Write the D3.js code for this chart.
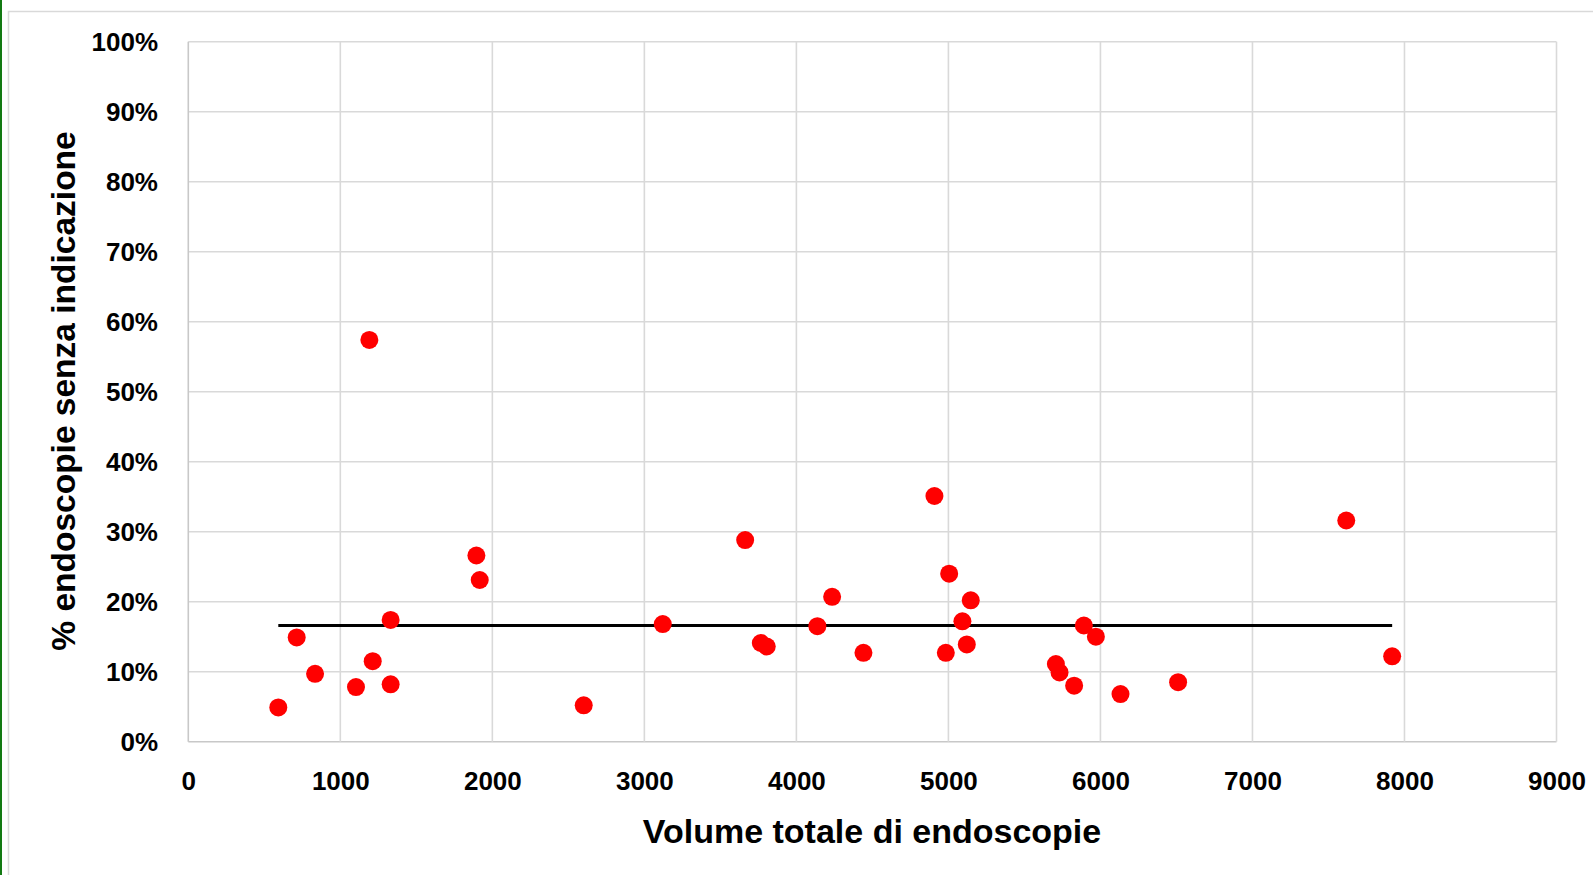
<!DOCTYPE html>
<html>
<head>
<meta charset="utf-8">
<script src="https://cdn.jsdelivr.net/npm/d3@7"></script>
<style>
  body { margin: 0; background: #fff; }
  svg { display: block; font-family: "Liberation Sans", Arial, sans-serif; }
</style>
</head>
<body>
<svg id="chart" width="1593" height="875"></svg>
<script>
// volume totale di endoscopie
var volumes = [592, 713, 834, 1103, 1213, 1331, 1331, 1191, 1895, 1917,
    2601, 3121, 3663, 3766, 3805, 4138, 4235, 4441, 4908, 5005,
    4983, 5147, 5092, 5121, 5707, 5731, 5827, 5891, 5970, 6132,
    6511, 7617, 7919];

// % endoscopie senza indicazione
var percents = [4.9, 14.9, 9.7, 7.8, 11.5, 8.2, 17.4, 57.4, 26.6, 23.1,
    5.2, 16.8, 28.8, 14.1, 13.6, 16.5, 20.7, 12.7, 35.1, 24.0,
    12.7, 20.2, 17.2, 13.9, 11.1, 9.9, 8.0, 16.6, 15.0, 6.8,
    8.5, 31.6, 12.2];

var meanPercent = 16.6;

var xTicks = [0, 1000, 2000, 3000, 4000, 5000, 6000, 7000, 8000, 9000];
var yTicks = [0, 10, 20, 30, 40, 50, 60, 70, 80, 90, 100];

var svg = d3.select('#chart');

// green edge + outer chart frame
svg.append('rect')
    .attr('x', 0).attr('y', 0)
    .attr('width', 2).attr('height', 875)
    .attr('fill', '#137a13');

svg.append('path')
    .attr('d', 'M8.5,875 V11.5 H1593')
    .attr('fill', 'none')
    .attr('stroke', '#d9d9d9')
    .attr('stroke-width', 1.5);

var x = d3.scaleLinear().domain([0, 9000]).range([188.3, 1556.5]);
var y = d3.scaleLinear().domain([0, 100]).range([741.7, 41.7]);

// grid
var grid = svg.append('g').attr('class', 'grid');

grid.selectAll('line.h')
    .data(yTicks)
    .enter().append('line')
    .attr('class', 'h')
    .attr('x1', x(0)).attr('x2', x(9000))
    .attr('y1', d => y(d)).attr('y2', d => y(d))
    .attr('stroke', d => d == 0 ? '#c8c8c8' : '#d9d9d9')
    .attr('stroke-width', 1.6);

grid.selectAll('line.v')
    .data(xTicks)
    .enter().append('line')
    .attr('class', 'v')
    .attr('x1', d => x(d)).attr('x2', d => x(d))
    .attr('y1', y(0)).attr('y2', y(100))
    .attr('stroke', d => d == 0 ? '#c8c8c8' : '#d9d9d9')
    .attr('stroke-width', 1.6);

// axes (labels only)
let xAxis = d3.axisBottom(x).tickValues(xTicks).tickSize(0).tickPadding(0).tickFormat(d3.format('d'));
let yAxis = d3.axisLeft(y).tickValues(yTicks).tickSize(0).tickPadding(0).tickFormat(d => d + '%');

let bottomAxis = svg.append('g')
    .attr('transform', `translate(0 ${y(0)})`)
    .call(xAxis);

bottomAxis.select('.domain').remove();
bottomAxis.selectAll('text')
    .attr('y', 48)
    .attr('dy', null);

let leftAxis = svg.append('g')
    .attr('transform', `translate(158 0)`)
    .call(yAxis);

leftAxis.select('.domain').remove();
leftAxis.selectAll('text')
    .attr('x', 0)
    .attr('dy', '0.35em');

svg.selectAll('.tick text')
    .attr('font-family', '"Liberation Sans", Arial, sans-serif')
    .attr('font-size', 26)
    .attr('font-weight', 'bold')
    .attr('fill', '#000');

// axis titles
svg.append('text')
    .attr('x', 872)
    .attr('y', 843)
    .attr('text-anchor', 'middle')
    .attr('font-size', 34)
    .attr('font-weight', 'bold')
    .text('Volume totale di endoscopie');

svg.append('text')
    .attr('transform', 'translate(75 391) rotate(-90)')
    .attr('text-anchor', 'middle')
    .attr('font-size', 33.5)
    .attr('font-weight', 'bold')
    .text('% endoscopie senza indicazione');

// mean line
let ext = d3.extent(volumes);

svg.append('line')
    .attr('x1', x(ext[0])).attr('x2', x(ext[1]))
    .attr('y1', y(meanPercent)).attr('y2', y(meanPercent))
    .attr('stroke', '#000')
    .attr('stroke-width', 3);

// points
let points = volumes.map((v, i) => ({ v: v, p: percents[i] }));

svg.append('g')
    .selectAll('circle')
    .data(points)
    .enter().append('circle')
    .attr('cx', d => x(d.v))
    .attr('cy', d => y(d.p))
    .attr('r', 9)
    .attr('fill', '#ff0000');
</script>
</body>
</html>
